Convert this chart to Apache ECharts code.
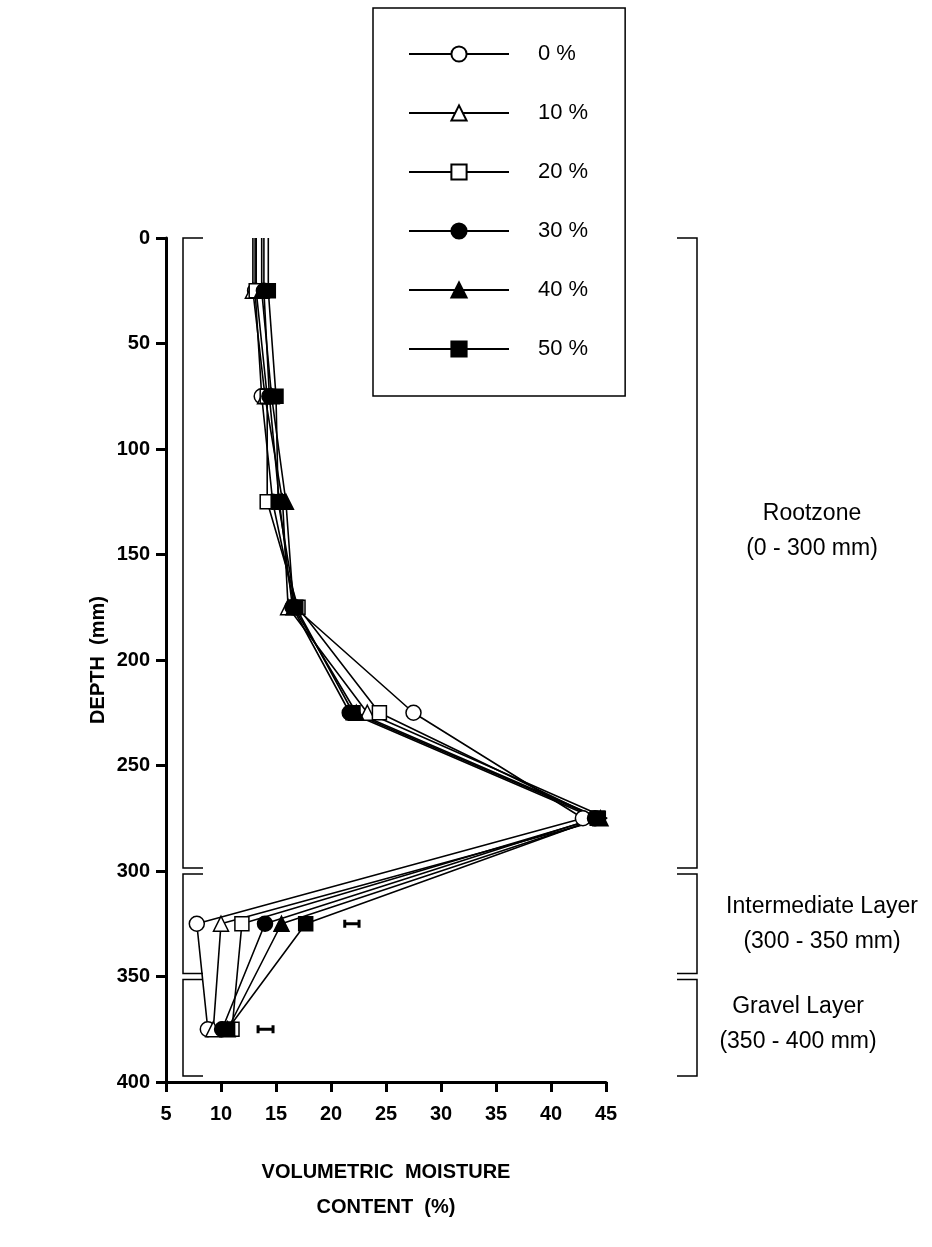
<!DOCTYPE html>
<html>
<head>
<meta charset="utf-8">
<script src="https://cdn.jsdelivr.net/npm/echarts@6/dist/echarts.min.js"></script>
<style>
  html, body { margin: 0; padding: 0; background: #fff; }
  #chart { width: 932px; height: 1247px; }
</style>
</head>
<body>
<div id="chart"></div>
<script>
// depth of each sample (mm); the 0 row only carries the line up to the surface
const depths = [0, 25, 75, 125, 175, 225, 275, 325, 375];

// volumetric moisture content (%) per treatment
const names = ["0 %", "10 %", "20 %", "30 %", "40 %", "50 %"];
const moist0  = [13.1, 13.1, 13.7, 14.7, 16.7, 27.5, 42.9, 7.8, 8.8];
const moist10 = [12.9, 12.9, 14.0, 15.6, 16.1, 23.3, 45.1, 10.0, 9.3];
const moist20 = [13.2, 13.2, 14.2, 14.2, 17.0, 24.4, 44.2, 11.9, 11.0];
const moist30 = [13.9, 13.9, 14.4, 15.3, 16.5, 21.7, 44.0, 14.0, 10.1];
const moist40 = [13.7, 13.7, 14.6, 15.9, 16.6, 22.3, 44.5, 15.5, 10.6];
const moist50 = [14.3, 14.3, 15.0, 15.2, 16.8, 22.0, 44.3, 17.7, 10.6];
const allMoist = [moist0, moist10, moist20, moist30, moist40, moist50];

// LSD bars: [centre %, depth mm, half width %]
const lsdBars = [[21.9, 325, 0.65], [14.05, 375, 0.68]];

// soil layers: [from mm, to mm]
const layers = [[0, 300], [300, 350], [350, 400]];
const layerLabels = ["Rootzone\n(0 - 300 mm)", "Intermediate Layer\n(300 - 350 mm)", "Gravel Layer\n(350 - 400 mm)"];

const xTicks = { min: 5, max: 45, interval: 5 };
const yTicks = { min: 0, max: 400, interval: 50 };

const FONT = "Liberation Sans";
const symbols = ["circle", "triangle", "rect", "circle", "triangle", "rect"];
const fills = ["#fff", "#fff", "#fff", "#000", "#000", "#000"];
const sizes = [15, 15, 14, 15, 15, 14];

const chart = echarts.init(document.getElementById("chart"));

const lineSeries = names.map((name, i) => ({
  name: name,
  type: "line",
  symbol: symbols[i],
  symbolSize: sizes[i],
  itemStyle: { color: fills[i], borderColor: "#000", borderWidth: 1.5, opacity: 1 },
  lineStyle: { color: "#000", width: 1.6 },
  emphasis: { disabled: true },
  data: depths.map((d, k) => k === 0
    ? { value: [allMoist[i][k], d], symbol: "none" }
    : [allMoist[i][k], d]),
  z: 3
}));

const barSeries = {
  type: "custom",
  clip: false,
  silent: true,
  data: lsdBars,
  renderItem: function (params, api) {
    const c = api.value(0), d = api.value(1), h = api.value(2);
    const l = api.coord([c - h, d]);
    const r = api.coord([c + h, d]);
    const st = { stroke: "#000", lineWidth: 3 };
    return {
      type: "group",
      children: [
        { type: "line", shape: { x1: l[0], y1: l[1], x2: r[0], y2: r[1] }, style: st },
        { type: "line", shape: { x1: l[0], y1: l[1] - 4, x2: l[0], y2: l[1] + 4 }, style: st },
        { type: "line", shape: { x1: r[0], y1: r[1] - 4, x2: r[0], y2: r[1] + 4 }, style: st }
      ]
    };
  }
};

const labelShift = [-22, 0, -4];
const labelDx = [0, 10, -14];

const layerSeries = {
  type: "custom",
  clip: false,
  silent: true,
  data: layers,
  renderItem: function (params, api) {
    const a = api.value(0), b = api.value(1);
    const i = params.dataIndex;
    const top = api.coord([xTicks.min, a])[1] + (a === 0 ? 0 : 3);
    const bot = api.coord([xTicks.min, b])[1] - (b === 400 ? 6 : 3);
    const lx = api.coord([xTicks.min, a])[0] + 17;
    const rx = api.coord([xTicks.max, a])[0] + 91;
    const st = { stroke: "#000", lineWidth: 1.5, fill: null };
    return {
      type: "group",
      children: [
        { type: "polyline", shape: { points: [[lx + 20, top], [lx, top], [lx, bot], [lx + 20, bot]] }, style: st },
        { type: "polyline", shape: { points: [[rx - 20, top], [rx, top], [rx, bot], [rx - 20, bot]] }, style: st },
        {
          type: "text",
          x: rx + 115 + labelDx[i],
          y: (top + bot) / 2 + labelShift[i],
          style: {
            text: layerLabels[i],
            font: "23px '" + FONT + "'",
            fill: "#000",
            align: "center",
            verticalAlign: "middle",
            lineHeight: 35
          }
        }
      ]
    };
  }
};

chart.setOption({
  animation: false,
  backgroundColor: "#fff",
  grid: { left: 166, top: 238, width: 440, height: 844 },
  legend: {
    data: names,
    orient: "vertical",
    left: 373,
    top: 8,
    padding: [35, 37, 36, 35],
    itemWidth: 100,
    itemHeight: 19,
    itemGap: 37,
    borderColor: "#000",
    borderWidth: 1.5,
    selectedMode: false,
    textStyle: { fontFamily: FONT, fontSize: 22, color: "#000", padding: [0, 0, 0, 24] }
  },
  xAxis: {
    type: "value",
    position: "bottom",
    min: xTicks.min, max: xTicks.max, interval: xTicks.interval,
    name: "VOLUMETRIC  MOISTURE\nCONTENT  (%)",
    nameLocation: "middle",
    nameGap: 73,
    nameTextStyle: { fontFamily: FONT, fontWeight: "bold", fontSize: 20, color: "#000", lineHeight: 35 },
    axisLine: { onZero: false, lineStyle: { color: "#000", width: 3 } },
    axisTick: { length: 10, lineStyle: { color: "#000", width: 3 } },
    axisLabel: { fontFamily: FONT, fontWeight: "bold", fontSize: 20, color: "#000", margin: 22 },
    splitLine: { show: false }
  },
  yAxis: {
    type: "value",
    inverse: true,
    min: yTicks.min, max: yTicks.max, interval: yTicks.interval,
    name: "DEPTH  (mm)",
    nameLocation: "middle",
    nameGap: 58,
    nameRotate: 90,
    nameTextStyle: { fontFamily: FONT, fontWeight: "bold", fontSize: 20, color: "#000" },
    axisLine: { onZero: false, lineStyle: { color: "#000", width: 3 } },
    axisTick: { length: 10, lineStyle: { color: "#000", width: 3 } },
    axisLabel: { fontFamily: FONT, fontWeight: "bold", fontSize: 20, color: "#000", margin: 16 },
    splitLine: { show: false }
  },
  series: [layerSeries].concat(lineSeries, [barSeries])
});
</script>
</body>
</html>
